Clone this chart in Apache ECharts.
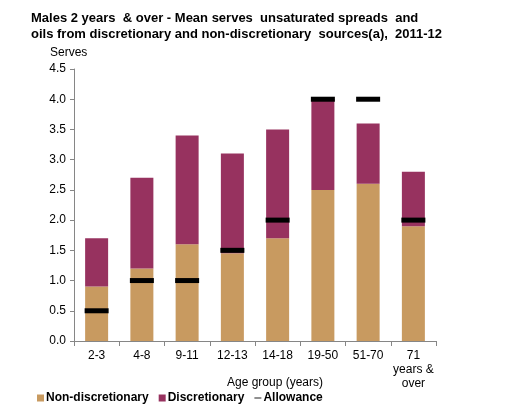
<!DOCTYPE html>
<html><head><meta charset="utf-8">
<script src="https://cdn.jsdelivr.net/npm/echarts@6/dist/echarts.min.js"></script>
<style>html,body{margin:0;padding:0;background:#fff}#c{width:525px;height:413px}</style>
</head><body><div id="c"></div>
<script>
var categories = ['2-3','4-8','9-11','12-13','14-18','19-50','51-70','71\nyears &\nover'];
var nonDiscretionary = [0.9, 1.2, 1.6, 1.45, 1.7, 2.5, 2.6, 1.9];
var discretionary = [0.8, 1.5, 1.8, 1.65, 1.8, 1.5, 1.0, 0.9];
var allowance = [0.5, 1.0, 1.0, 1.5, 2.0, 4.0, 4.0, 2.0];
var yTicks = { min: 0, max: 4.5, interval: 0.5 };

var F = 'Liberation Sans, Arial, sans-serif';
var chart = echarts.init(document.getElementById('c'));
chart.setOption({
  animation: false,
  title: {
    text: 'Males 2 years  & over - Mean serves  unsaturated spreads  and\noils from discretionary and non-discretionary  sources(a),  2011-12',
    left: 26, top: 5,
    textStyle: { fontFamily: F, fontSize: 13, fontWeight: 'bold', color: '#000', lineHeight: 16 }
  },
  grid: { left: 74, right: 89, top: 69, bottom: 72 },
  legend: {
    left: 32, top: 387, itemWidth: 7, itemHeight: 7, itemGap: 10,
    textStyle: { fontFamily: F, fontSize: 12, fontWeight: 'bold', color: '#000', padding: [0,0,0,-3] },
    data: [
      { name: 'Non-discretionary', icon: 'rect' },
      { name: 'Discretionary', icon: 'rect' },
      { name: 'Allowance', icon: 'path://M0,4 L8,4 L8,5 L0,5 Z', itemStyle: { opacity: 1 } }
    ]
  },
  xAxis: {
    type: 'category', data: categories,
    name: 'Age group (years)', nameLocation: 'middle', nameGap: 36, nameMoveOverlap: false,
    nameTextStyle: { fontFamily: F, fontSize: 12, color: '#000', padding: [0,0,0,40] },
    axisLine: { lineStyle: { color: '#868686' } },
    axisTick: { show: true, lineStyle: { color: '#868686' }, length: 5 },
    axisLabel: { fontFamily: F, fontSize: 12, color: '#000', margin: 8, lineHeight: 14, interval: 0 }
  },
  yAxis: {
    type: 'value', min: yTicks.min, max: yTicks.max, interval: yTicks.interval,
    name: 'Serves', nameLocation: 'end', nameGap: 10,
    nameTextStyle: { fontFamily: F, fontSize: 12, color: '#000', align: 'left', padding: [0,0,0,-24] },
    axisLine: { show: true, lineStyle: { color: '#868686' } },
    axisTick: { show: true, lineStyle: { color: '#868686' }, length: 4 },
    splitLine: { show: false },
    axisLabel: { fontFamily: F, fontSize: 12, color: '#000', margin: 8,
      formatter: function (v) { return v.toFixed(1); } }
  },
  series: [
    { name: 'Non-discretionary', type: 'bar', stack: 's', data: nonDiscretionary,
      barWidth: 23, itemStyle: { color: '#C89A60' } },
    { name: 'Discretionary', type: 'bar', stack: 's', data: discretionary,
      barWidth: 23, itemStyle: { color: '#97325F' } },
    { name: 'Allowance', type: 'scatter', data: allowance, symbol: 'rect',
      symbolSize: [24, 5], itemStyle: { color: '#000', opacity: 1 }, z: 5 }
  ]
});
</script></body></html>
